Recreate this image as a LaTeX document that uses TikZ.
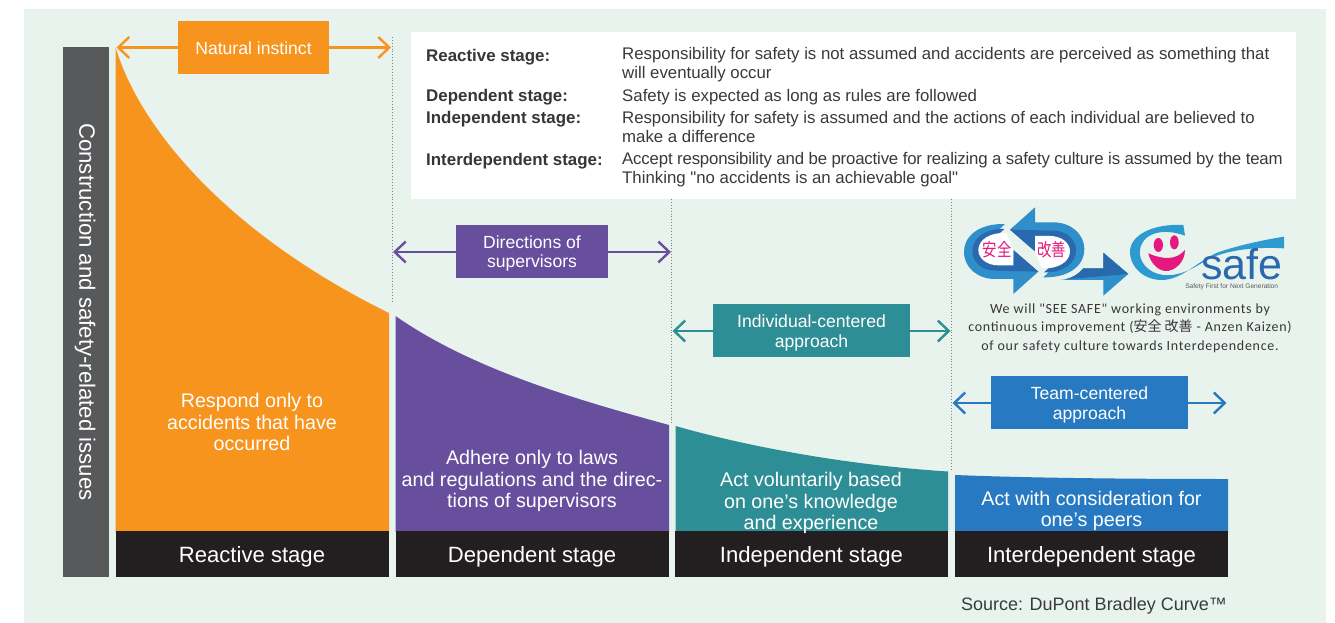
\documentclass[tikz,border=0pt]{standalone}
\usepackage{fontspec}
\setmainfont{Liberation Sans}
\newfontfamily\plainq{Liberation Sans}
\newfontfamily\cjk{Noto Sans CJK JP}
\newfontfamily\carl[LetterSpace=5.2]{Carlito}
\usetikzlibrary{arrows.meta}
\definecolor{panel}{HTML}{E8F3EE}
\definecolor{cOr}{HTML}{F7941D}
\definecolor{cPu}{HTML}{674F9E}
\definecolor{cTe}{HTML}{2E8E96}
\definecolor{cBl}{HTML}{2779C2}
\definecolor{cBk}{HTML}{231F20}
\definecolor{cGr}{HTML}{58595B}
\definecolor{cTx}{HTML}{3A3A3C}
\definecolor{lgL}{HTML}{2E8FCB}
\definecolor{lgD}{HTML}{2A69AE}
\definecolor{lgC}{HTML}{2E9BD0}
\definecolor{lgP}{HTML}{E6187F}
\newcommand{\fsz}[2]{\fontsize{#1}{#2}\selectfont}
\tikzset{
  box/.style={fill=#1,inner sep=0pt},
  boxtext/.style={text=white,inner sep=0pt,align=center,font=\fsz{17.6}{19.3}},
  span/.style={draw=#1,line width=2.4pt,{Straight Barb[length=11pt,width=21pt,line width=2.4pt]}-{Straight Barb[length=11pt,width=21pt,line width=2.4pt]}},
  stagebar/.style={fill=cBk,inner sep=0pt},
  stagetext/.style={text=white,inner sep=0pt,font=\fsz{22.1}{24}},
  body/.style={text=white,align=center,inner sep=0pt,font=\fsz{19.7}{21.3}},
  guide/.style={draw=gray,line width=0.9pt,dotted,line cap=butt},
  hd/.style={anchor=west,inner sep=0pt,text=cBk!90,font=\fsz{16.9}{19}\bfseries},
  tx/.style={anchor=north west,inner sep=0pt,text=cTx,align=left,font=\fsz{16.8}{18.7}},
}
\begin{document}
\begin{tikzpicture}[x=1pt,y=-1pt]
\useasboundingbox (0,0) rectangle (1335,623);
\fill[white] (0,0) rectangle (1335,623);
\fill[panel] (24,9) rectangle (1326,623);
% white legend box
\fill[white] (411,32) rectangle (1296,199);
% guides
\coordinate (g1a) at (392.5,37); \coordinate (g1b) at (392.5,302);
\coordinate (g2a) at (671.5,199); \coordinate (g2b) at (671.5,423);
\coordinate (g3a) at (951.5,199); \coordinate (g3b) at (951.5,471);
\draw[guide] (g1a) -- (g1b);
\draw[guide] (g2a) -- (g2b);
\draw[guide] (g3a) -- (g3b);
% side bar
\node[fill=cGr,minimum width=46pt,minimum height=530pt,inner sep=0pt,anchor=north west] (side) at (62.5,47) {};
\node[rotate=-90,text=white,inner sep=0pt,font=\fsz{22.2}{24}] (sidet) at (85,312) {Construction and safety-related issues};
% curve areas
\fill[cOr] (115.5,47) .. controls (140,130) and (230,235) .. (389,313) -- (389,532) -- (115.5,532) -- cycle;
\fill[cPu] (395.5,316) .. controls (470,368) and (570,398) .. (669,425) -- (669,532) -- (395.5,532) -- cycle;
\fill[cTe] (675.5,426) .. controls (760,450) and (860,466) .. (948,471.5) -- (948,532) -- (675.5,532) -- cycle;
\fill[cBl] (955,475) .. controls (1030,478) and (1130,479) .. (1228,479) -- (1228,532) -- (955,532) -- cycle;
% stage bars
\node[stagebar,minimum width=273.5pt,minimum height=46pt,anchor=north west] (s1) at (115.5,531) {};
\node[stagebar,minimum width=273.5pt,minimum height=46pt,anchor=north west] (s2) at (395.5,531) {};
\node[stagebar,minimum width=273pt,minimum height=46pt,anchor=north west] (s3) at (675,531) {};
\node[stagebar,minimum width=273pt,minimum height=46pt,anchor=north west] (s4) at (955,531) {};
\node[stagetext] (s1t) at (252,557) {Reactive stage};
\node[stagetext] (s2t) at (532,557) {Dependent stage};
\node[stagetext] (s3t) at (811.5,557) {Independent stage};
\node[stagetext] (s4t) at (1091.5,557) {Interdependent stage};
% body texts
\node[body] (b1) at (252,422) {Respond only to\\accidents that have\\occurred};
\node[body] (b2) at (532,481) {Adhere only to laws\\and regulations and the direc-\\tions of supervisors};
\node[body] (b3) at (811,503) {Act voluntarily based\\on one’s knowledge\\and experience};
\node[body] (b4) at (1091.5,511) {Act with consideration for\\one’s peers};
% spans
\coordinate (n1l) at (116.5,47.5); \coordinate (n1r) at (391,47.5);
\draw[span=cOr] (n1l) -- (n1r);
\node[box=cOr,minimum width=151pt,minimum height=53pt] (n1) at (253.5,47.5) {};
\node[boxtext] (n1t) at (253.5,48.5) {Natural instinct};
\coordinate (n2l) at (393,252); \coordinate (n2r) at (671,252);
\draw[span=cPu] (n2l) -- (n2r);
\node[box=cPu,minimum width=152pt,minimum height=53pt] (n2) at (532,251.5) {};
\node[boxtext] (n2t) at (532,253.5) {Directions of\\supervisors};
\coordinate (n3l) at (672.5,331); \coordinate (n3r) at (950.5,331);
\draw[span=cTe] (n3l) -- (n3r);
\node[box=cTe,minimum width=197pt,minimum height=53pt] (n3) at (811.5,330.5) {};
\node[boxtext] (n3t) at (811.5,333) {Individual-centered\\approach};
\coordinate (n4l) at (952.5,403); \coordinate (n4r) at (1226.5,403);
\draw[span=cBl] (n4l) -- (n4r);
\node[box=cBl,minimum width=197pt,minimum height=53pt] (n4) at (1089.5,402.5) {};
\node[boxtext] (n4t) at (1089.5,405) {Team-centered\\approach};
% legend
\node[hd] (h1) at (426,57) {Reactive stage:};
\node[hd] (h2) at (426,97.5) {Dependent stage:};
\node[hd] (h3) at (426,119.5) {Independent stage:};
\node[hd] (h4) at (426,161) {Interdependent stage:};
\node[tx] (t1) at (622,47.5) {Responsibility for safety is not assumed and accidents are perceived as something that\\will eventually occur};
\node[tx] (t2) at (622,89.5) {Safety is expected as long as rules are followed};
\node[tx] (t3) at (622,111) {{\addfontfeature{LetterSpace=-0.2}Responsibility for safety is assumed and the actions of each individual are believed to}\\make a difference};
\node[tx] (t4) at (622,152.5) {{\addfontfeature{LetterSpace=-1.06}Accept responsibility and be proactive for realizing a safety culture is assumed by the team}\\Thinking {\plainq "}no accidents is an achievable goal{\plainq "}};
% logo: loop arrows
\begin{scope}[shift={(955,200)},x=0.3333pt,y=-0.3333pt]
  \foreach \r in {0,180}{
  \begin{scope}[rotate around={\r:(207.5,152)}]
    \fill[lgL] (150,72) .. controls (70,70) and (27,110) .. (27,155) .. controls (27,205) and (70,237) .. (120,237) -- (175,237) -- (175,282) -- (250,215) -- (175,150) -- (175,180) -- (120,180) -- (100,120) -- cycle;
    \fill[lgD] (148,87) .. controls (90,85) and (52,115) .. (52,152) .. controls (52,190) and (85,212) .. (120,212) -- (250,215) -- (175,150) -- (175,195) -- (120,190) -- (100,130) -- cycle;
    \fill[white] (155,100) .. controls (105,95) and (70,120) .. (70,150) .. controls (70,175) and (95,196) .. (130,196) -- (175,196) -- (175,150) -- cycle;
  \end{scope}}
  \fill[lgL] (315,240) .. controls (350,238) and (370,222) .. (385,205) -- (445,205) -- (445,158) -- (520,222) -- (445,287) -- (445,240) -- cycle;
  \fill[lgD] (330,238) .. controls (355,232) and (370,222) .. (385,205) -- (445,205) -- (445,158) -- (520,222) -- cycle;
  \node[text=lgP,inner sep=0pt,font=\cjk\fsz{18}{20},xscale=0.8] (lg1) at (127,150) {安全};
  \node[text=lgP,inner sep=0pt,font=\cjk\fsz{18}{20},xscale=0.8] (lg2) at (290,150) {改善};
\end{scope}
% logo: C-safe
\begin{scope}[shift={(1120,215)},x=0.3333pt,y=-0.3333pt]
  \fill[lgC] (190,30) .. controls (100,25) and (30,60) .. (30,110) .. controls (30,160) and (75,195) .. (125,195) .. controls (190,195) and (240,130) .. (300,110) .. controls (360,90) and (430,75) .. (492,65) -- (492,100) .. controls (400,95) and (320,105) .. (260,135) .. controls (220,160) and (180,185) .. (130,180) .. controls (85,175) and (55,140) .. (60,105) .. controls (65,60) and (120,35) .. (195,62) -- cycle;
  \fill[lgP] (115,90) ellipse [x radius=14,y radius=21];
  \fill[lgP] (163,82) ellipse [x radius=13,y radius=21];
  \fill[lgP] (85,115) .. controls (130,135) and (170,135) .. (195,105) .. controls (195,140) and (165,170) .. (135,168) .. controls (110,165) and (90,140) .. (85,115) -- cycle;
  \node[text=lgD,anchor=base,inner sep=0pt,font=\fsz{43}{44}] (lg3) at (365,195) {safe};
  \node[text=cGr,anchor=base,inner sep=0pt,font=\fsz{6.6}{7}] (lg4) at (335,222) {Safety First for Next Generation};
\end{scope}
% logo caption
\node[inner sep=0pt,text=cBk!90,align=center,font=\carl\fsz{14}{18.4}] (cap) at (1130,328) {We will "SEE SAFE" working environments by\\continuous improvement ({\cjk 安全 改善} - Anzen Kaizen)\\of our safety culture towards Interdependence.};
% source
\node[inner sep=0pt,anchor=east,text=cTx,font=\fsz{18}{20}] (src) at (1227,606) {Source: DuPont Bradley Curve™};
\end{tikzpicture}
\end{document}
